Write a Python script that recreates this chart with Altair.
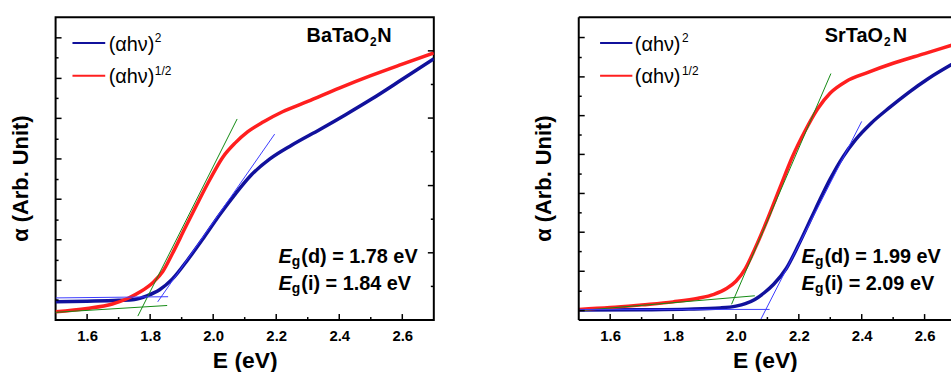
import altair as alt
import pandas as pd

FONT = "Liberation Sans"
W, H = 381, 305
W_R = 375

X_DOMAIN = [1.5, 2.7]
X_DOMAIN_R = [1.5, 2.684]
Y_DOMAIN = [0, 1]
X_LABELS = [1.6, 1.8, 2.0, 2.2, 2.4, 2.6]
X_MINOR = [1.7, 1.9, 2.1, 2.3, 2.5]

# ---------------- BaTaO2N ----------------
ba_sq_E = [1.50, 1.60, 1.70, 1.75, 1.79, 1.83, 1.87, 1.92, 1.97, 2.02, 2.07, 2.12,
           2.18, 2.25, 2.34, 2.42, 2.50, 2.60, 2.70]
ba_sq_v = [0.060, 0.062, 0.065, 0.068, 0.080, 0.100, 0.135, 0.200, 0.272, 0.347, 0.416, 0.478,
           0.532, 0.578, 0.630, 0.678, 0.728, 0.795, 0.863]
ba_half_E = [1.50, 1.60, 1.68, 1.73, 1.77, 1.81, 1.84, 1.87, 1.91, 1.95, 1.99, 2.03, 2.07,
             2.11, 2.16, 2.22, 2.30, 2.40, 2.50, 2.60, 2.70]
ba_half_v = [0.027, 0.038, 0.053, 0.072, 0.094, 0.125, 0.160, 0.218, 0.302, 0.385, 0.465, 0.537,
             0.585, 0.622, 0.655, 0.688, 0.722, 0.766, 0.807, 0.845, 0.882]
ba_green_steep_E = [1.761, 2.076]
ba_green_steep_v = [0.013, 0.664]
ba_green_base_E = [1.494, 1.854]
ba_green_base_v = [0.025, 0.048]
ba_blue_steep_E = [1.824, 2.195]
ba_blue_steep_v = [0.060, 0.614]
ba_blue_base_E = [1.50, 1.857]
ba_blue_base_v = [0.073, 0.077]
ba_y_major = [0.131, 0.265, 0.399, 0.532, 0.666, 0.798, 0.932]
ba_y_minor = [0.066, 0.197, 0.330, 0.464, 0.597, 0.732, 0.866]
ba_r_major = [0.222, 0.444, 0.667, 0.889]
ba_r_minor = [0.111, 0.333, 0.556, 0.778]

# ---------------- SrTaO2N ----------------
sr_sq_E = [1.50, 1.70, 1.85, 1.95, 2.00, 2.03, 2.06, 2.09, 2.12, 2.16, 2.20, 2.24, 2.28,
           2.30, 2.34, 2.38, 2.43, 2.49, 2.55, 2.61, 2.70]
sr_sq_v = [0.033, 0.034, 0.036, 0.040, 0.046, 0.054, 0.068, 0.090, 0.118, 0.170, 0.250, 0.338,
           0.425, 0.466, 0.538, 0.595, 0.650, 0.703, 0.752, 0.796, 0.852]
sr_half_E = [1.50, 1.60, 1.70, 1.80, 1.88, 1.93, 1.97, 2.00, 2.03, 2.06, 2.10, 2.14, 2.18,
             2.22, 2.26, 2.30, 2.35, 2.42, 2.50, 2.60, 2.70]
sr_half_v = [0.035, 0.041, 0.050, 0.060, 0.072, 0.085, 0.104, 0.128, 0.170, 0.235, 0.332, 0.437,
             0.540, 0.625, 0.698, 0.750, 0.788, 0.818, 0.848, 0.880, 0.912]
sr_green_steep_E = [1.986, 2.302]
sr_green_steep_v = [0.052, 0.814]
sr_green_base_E = [1.502, 2.060]
sr_green_base_v = [0.031, 0.080]
sr_blue_steep_E = [2.078, 2.400]
sr_blue_steep_v = [0.0, 0.656]
sr_blue_base_E = [1.502, 2.107]
sr_blue_base_v = [0.035, 0.035]
sr_y_major = [0.031, 0.161, 0.290, 0.418, 0.547, 0.675, 0.803, 0.933]
sr_y_minor = [0.095, 0.226, 0.354, 0.482, 0.611, 0.739, 0.867]

LEG_SQ = "(αhν)"
SUP_SQ = "2"
SUP_HALF = "1/2"
X_TITLE = "E (eV)"
Y_TITLE = "α (Arb. Unit)"

BLUE = "#11119c"
RED = "#ff1f1f"
GREEN = "#138a13"
THINBLUE = "#3a3aff"

ys = alt.Scale(domain=Y_DOMAIN, nice=False, zero=False)

XAX = alt.Axis(values=X_LABELS, format=".1f", ticks=False, tickSize=0, domain=False, grid=False,
               labelFont=FONT, labelFontSize=15, labelFontWeight="bold", labelColor="black",
               labelPadding=9, title=X_TITLE, titleFont=FONT, titleFontSize=23,
               titleFontWeight="bold", titleColor="black", titlePadding=6)
YAX = alt.Axis(labels=False, ticks=False, tickSize=0, domain=False, grid=False,
               title=Y_TITLE, titleFont=FONT, titleFontSize=22,
               titleFontWeight="bold", titleColor="black", titlePadding=23.5, titleY=162)


def panel(sqE, sqv, hE, hv, gs, gb, bs, bb, ymaj, ymin, rmaj, rmin,
          formula, sub_x, n_x, eg_d, eg_i, leg_x0, leg_x1, leg_tx, leg_sup,
          xdomain, width, framed):
    xs = alt.Scale(domain=xdomain, nice=False, zero=False)

    def X(field):
        return alt.X(field, scale=xs, axis=XAX, title=X_TITLE)

    def Y(field):
        return alt.Y(field, scale=ys, axis=YAX, title=Y_TITLE)

    def curve(E, v, color, sw):
        df = pd.DataFrame({"E": E, "v": v})
        return alt.Chart(df).mark_line(color=color, strokeWidth=sw, interpolate="monotone",
                                       clip=True).encode(x=X("E:Q"), y=Y("v:Q"))

    def yticks(vals, x0, x1):
        df = pd.DataFrame({"v": vals})
        return alt.Chart(df).mark_rule(color="black", strokeWidth=1.5).encode(
            y=Y("v:Q"), x=alt.value(x0), x2=alt.value(x1))

    def xticks(vals, length):
        df = pd.DataFrame({"E": vals})
        return alt.Chart(df).mark_rule(color="black", strokeWidth=1.5).encode(
            x=X("E:Q"), y=alt.value(H), y2=alt.value(H - length))

    def text(s, x, y, size, weight="bold", style="normal", align="left"):
        df = pd.DataFrame({"s": [s]})
        return alt.Chart(df).mark_text(align=align, baseline="alphabetic", font=FONT, fontSize=size,
                                       fontWeight=weight, fontStyle=style, color="black").encode(
            text="s:N", x=alt.value(x), y=alt.value(y))

    def hline(x0, x1, y, color, sw):
        df = pd.DataFrame({"k": [0]})
        return alt.Chart(df).mark_rule(color=color, strokeWidth=sw).encode(
            x=alt.value(x0), x2=alt.value(x1), y=alt.value(y))

    def vline(x, y0, y1, color, sw):
        df = pd.DataFrame({"k": [0]})
        return alt.Chart(df).mark_rule(color=color, strokeWidth=sw).encode(
            x=alt.value(x), y=alt.value(y0), y2=alt.value(y1))

    layers = [
        curve(sqE, sqv, BLUE, 3.5),
        curve(hE, hv, RED, 3.5),
        curve(gs[0], gs[1], GREEN, 1), curve(gb[0], gb[1], GREEN, 1),
        curve(bs[0], bs[1], THINBLUE, 1), curve(bb[0], bb[1], THINBLUE, 1),
        yticks(ymaj, 0, 6), yticks(ymin, 0, 3),
        xticks(X_LABELS, 6), xticks(X_MINOR, 3),
    ]
    if rmaj:
        layers += [yticks(rmaj, width, width - 6), yticks(rmin, width, width - 3)]
    if not framed:
        layers += [
            vline(0, 0, H, "black", 2),
            hline(0, width, 0, "black", 2),
            hline(0, width, H, "black", 2),
        ]
    layers += [
        text(formula, sub_x, 24.5, 20, align="right"),
        text("2", sub_x + 1, 28.5, 12),
        text("N", n_x, 24.5, 20),
    ]
    for yy, lab in [(248, eg_d), (275, eg_i)]:
        layers += [
            text("E", 224.5, yy, 20, style="italic"),
            text("g", 238, yy + 3, 14),
            text(lab, 247.5, yy, 20),
        ]
    layers += [
        hline(leg_x0, leg_x1, 26, BLUE, 2), hline(leg_x0, leg_x1, 59, RED, 2),
        text(LEG_SQ, leg_tx, 33.5, 20, weight="normal"),
        text(SUP_SQ, leg_sup, 25, 12, weight="normal"),
        text(LEG_SQ, leg_tx, 66.5, 20, weight="normal"),
        text(SUP_HALF, leg_sup, 58, 12, weight="normal"),
    ]
    view = alt.ViewBackground(stroke="black", strokeWidth=2) if framed else \
        alt.ViewBackground(stroke="transparent", strokeWidth=0)
    return alt.layer(*layers).properties(width=width, height=H, view=view)


left = panel(ba_sq_E, ba_sq_v, ba_half_E, ba_half_v,
             (ba_green_steep_E, ba_green_steep_v), (ba_green_base_E, ba_green_base_v),
             (ba_blue_steep_E, ba_blue_steep_v), (ba_blue_base_E, ba_blue_base_v),
             ba_y_major, ba_y_minor, ba_r_major, ba_r_minor,
             "BaTaO", 315.8, 324, "(d) = 1.78 eV", "(i) = 1.84 eV", 17, 50, 53.5, 100,
             X_DOMAIN, W, True)
right = panel(sr_sq_E, sr_sq_v, sr_half_E, sr_half_v,
              (sr_green_steep_E, sr_green_steep_v), (sr_green_base_E, sr_green_base_v),
              (sr_blue_steep_E, sr_blue_steep_v), (sr_blue_base_E, sr_blue_base_v),
              sr_y_major, sr_y_minor, None, None,
              "SrTaO", 306.4, 316.4, "(d) = 1.99 eV", "(i) = 2.09 eV", 21.5, 54, 56.5, 104,
              X_DOMAIN_R, W_R, False)

chart = alt.hconcat(left, right, spacing=146, bounds="flush").properties(
    padding={"left": 8, "top": 15, "right": 0, "bottom": -2},
    background="white",
)

chart.save("out.html", embed_options={"renderer": "svg", "actions": False})
